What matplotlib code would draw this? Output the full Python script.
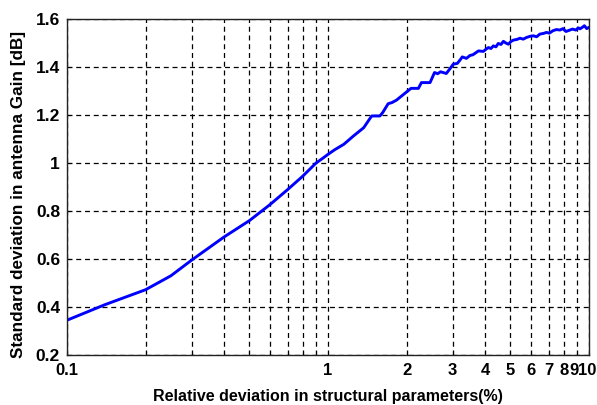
import matplotlib
matplotlib.use("Agg")
import matplotlib.pyplot as plt
from matplotlib.ticker import FixedLocator, NullFormatter
from matplotlib.transforms import ScaledTranslation

# Relative deviation in structural parameters (%)
rel_dev = [0.10, 0.14, 0.20, 0.25, 0.30, 0.40, 0.50, 0.60, 0.70, 0.80, 0.90,
           0.95, 1.00, 1.06, 1.15, 1.25, 1.37, 1.47, 1.58, 1.62, 1.70, 1.76,
           1.83, 2.00, 2.08, 2.22, 2.28, 2.46, 2.56, 2.63, 2.70, 2.84, 2.92, 3.02,
           3.13, 3.20, 3.27, 3.39, 3.50, 3.59, 3.68, 3.77, 3.94, 4.05, 4.12, 4.21,
           4.30, 4.40, 4.49, 4.60, 4.70, 4.80, 4.91, 5.02, 5.13, 5.30, 5.44, 5.60,
           5.76, 5.95, 6.12, 6.30, 6.48, 6.70, 6.87, 7.05, 7.27, 7.50, 7.74, 7.95,
           8.16, 8.40, 8.64, 8.90, 9.10, 9.24, 9.45, 9.60, 9.80, 10.0]
# Standard deviation in antenna gain (dB)
gain_std = [0.345, 0.410, 0.472, 0.530, 0.595, 0.692, 0.760, 0.827, 0.889, 0.945, 1.000,
            1.018, 1.036, 1.055, 1.078, 1.112, 1.147, 1.196, 1.196, 1.210, 1.247, 1.252,
            1.262, 1.296, 1.311, 1.311, 1.335, 1.335, 1.377, 1.372, 1.380, 1.373, 1.390, 1.412,
            1.415, 1.428, 1.442, 1.436, 1.448, 1.451, 1.459, 1.467, 1.465, 1.476, 1.481, 1.477,
            1.488, 1.484, 1.498, 1.494, 1.507, 1.500, 1.495, 1.506, 1.512, 1.515, 1.520, 1.516,
            1.523, 1.528, 1.530, 1.526, 1.537, 1.540, 1.544, 1.541, 1.551, 1.556, 1.554, 1.560,
            1.548, 1.553, 1.558, 1.554, 1.563, 1.559, 1.566, 1.572, 1.560, 1.565]

major_ticks = [0.1, 1, 2, 3, 4, 5, 6, 7, 8, 9, 10]
major_labels = ["0.1", "1", "2", "3", "4", "5", "6", "7", "8", "9", "10"]
minor_ticks = [0.2, 0.3, 0.4, 0.5, 0.6, 0.7, 0.8, 0.9]
y_ticks = [0.2, 0.4, 0.6, 0.8, 1.0, 1.2, 1.4, 1.6]
y_labels = ["0.2", "0.4", "0.6", "0.8", "1", "1.2", "1.4", "1.6"]

plt.rcParams['font.family'] = ['Liberation Sans', 'DejaVu Sans']

fig = plt.figure(figsize=(5.97, 4.05), dpi=100)
ax = fig.add_axes([67/597, 1-355/405, (589-67)/597, (355-19)/405])

ax.plot(rel_dev, gain_std, color="#0000ff", linewidth=2.1)

ax.set_xscale("log")
ax.set_xlim(0.1, 10)
ax.set_ylim(0.2, 1.6)

ax.xaxis.set_major_locator(FixedLocator(major_ticks))
ax.set_xticklabels(major_labels)
ax.xaxis.set_minor_locator(FixedLocator(minor_ticks))
ax.xaxis.set_minor_formatter(NullFormatter())
ax.set_yticks(y_ticks)
ax.set_yticklabels(y_labels)

grid_kw = dict(color="black", linestyle=(0, (4, 3)), linewidth=0.9)
ax.grid(True, which="major", **grid_kw)
ax.grid(True, which="minor", axis="x", **grid_kw)

ax.tick_params(axis="both", which="both", direction="in", length=3,
               labelsize=12.5, width=0.8)
ax.tick_params(axis="x", which="major", pad=6, labelsize=12)
ax.tick_params(axis="y", which="major", pad=5)
for lab in ax.get_xticklabels() + ax.get_yticklabels():
    lab.set_fontweight("bold")

# keep "9" and "10" just touching and inside the figure, as in the reference
xl = ax.get_xticklabels()
xl[-2].set_transform(xl[-2].get_transform() + ScaledTranslation(-3/100, 0, fig.dpi_scale_trans))
xl[-1].set_transform(xl[-1].get_transform() + ScaledTranslation(-1.5/100, 0, fig.dpi_scale_trans))

for sp in ax.spines.values():
    sp.set_linewidth(1.0)
    sp.set_color("#222222")

ax.set_xlabel("Relative deviation in structural parameters(%)", fontsize=11.5,
              fontweight="bold", labelpad=8)
ax.set_ylabel("Standard deviation in antenna Gain [dB]", fontsize=12.3,
              fontweight="bold", labelpad=7)
ax.yaxis.label.set_y(0.478)

fig.savefig("out.png", dpi=100)
